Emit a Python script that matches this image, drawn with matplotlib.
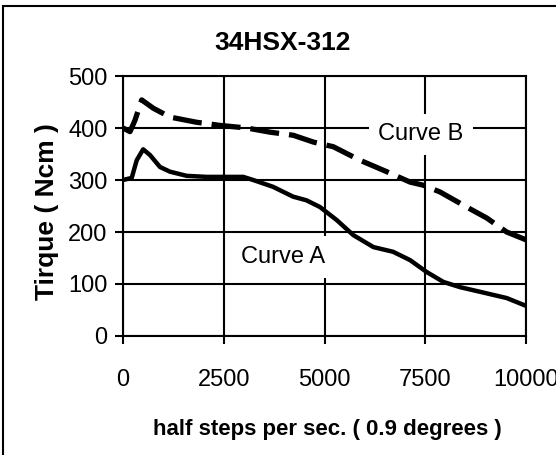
import matplotlib
matplotlib.use("Agg")
import matplotlib.pyplot as plt
from matplotlib.patches import Rectangle

plt.rcParams.update({
    "font.family": ["Liberation Sans", "DejaVu Sans"],
    "axes.edgecolor": "black", "axes.linewidth": 1.5,
})

# curve A (solid) and curve B (dashed): half steps/s vs torque (Ncm)
a_x = [0, 216, 340, 500, 670, 918, 1166, 1580, 2077, 2407, 2985, 3230, 3720, 4220,
       4550, 4888, 5302, 5715, 6213, 6700, 7122, 7536, 7950, 8360, 8860, 9520, 10000]
a_y = [300, 304, 338, 359, 348, 325, 316, 308, 306, 306, 306, 300, 287, 268,
       261, 248, 223, 194, 171, 162, 146, 123, 104, 94, 85, 73, 58]
b_x = [0, 174, 298, 464, 752, 1166, 1828, 2407, 3070, 3647, 4226, 4722, 5218, 5880,
       6543, 7122, 7450, 7866, 8528, 9024, 9520, 10000]
b_y = [400, 393, 415, 454, 438, 421, 411, 405, 400, 392, 386, 373, 364, 338,
       316, 296, 290, 277, 248, 227, 200, 185]

x_ticks = [0, 2500, 5000, 7500, 10000]
y_ticks = [0, 100, 200, 300, 400, 500]

W, H = 556, 455
fig = plt.figure(figsize=(W / 100, H / 100), dpi=100)
ax = fig.add_axes([123 / W, 1 - 336 / H, (526 - 123) / W, (336 - 76) / H])

ax.plot(a_x, a_y, color="black", lw=3.2, solid_joinstyle="round", zorder=3)
ax.plot(b_x, b_y, color="black", lw=3.8, dashes=(5.5, 1.9),
        dash_capstyle="butt", zorder=3)

ax.set_xlim(0, 10000)
ax.set_ylim(0, 500)
ax.set_xticks(x_ticks)
ax.set_yticks(y_ticks)
ax.grid(True, color="black", lw=1.5)
ax.set_axisbelow(True)
ax.tick_params(axis="both", direction="out", length=6, width=1.5, labelsize=17)
ax.tick_params(axis="x", pad=18)
ax.tick_params(axis="y", pad=5)

ax.text(7395, 388, "Curve B", fontsize=17, ha="center", va="center", zorder=2,
        bbox=dict(facecolor="white", edgecolor="none", pad=7))
ax.text(3970, 152, "Curve A", fontsize=17, ha="center", va="center", zorder=2,
        bbox=dict(facecolor="white", edgecolor="none", pad=7))

ax.set_xlabel("half steps per sec. ( 0.9 degrees )", fontsize=16, fontweight="bold")
ax.xaxis.set_label_coords((327 - 123) / (526 - 123), -(430 - 336) / (336 - 76))
ax.xaxis.label.set_va("center")
ax.set_ylabel("Tirque ( Ncm )", fontsize=19, fontweight="bold")
ax.yaxis.set_label_coords((47 - 123) / (526 - 123), (336 - 212) / (336 - 76))
ax.yaxis.label.set_va("center")

fig.text(283 / W, 1 - 43 / H, "34HSX-312", fontsize=19, fontweight="bold",
         ha="center", va="center")

# chart-area border
fig.patches.append(Rectangle((3 / W, -0.1), 1.2, 1 - 6 / H + 0.1,
                             transform=fig.transFigure, fill=False,
                             edgecolor="black", lw=1.5))

fig.savefig("out.png", dpi=100)
